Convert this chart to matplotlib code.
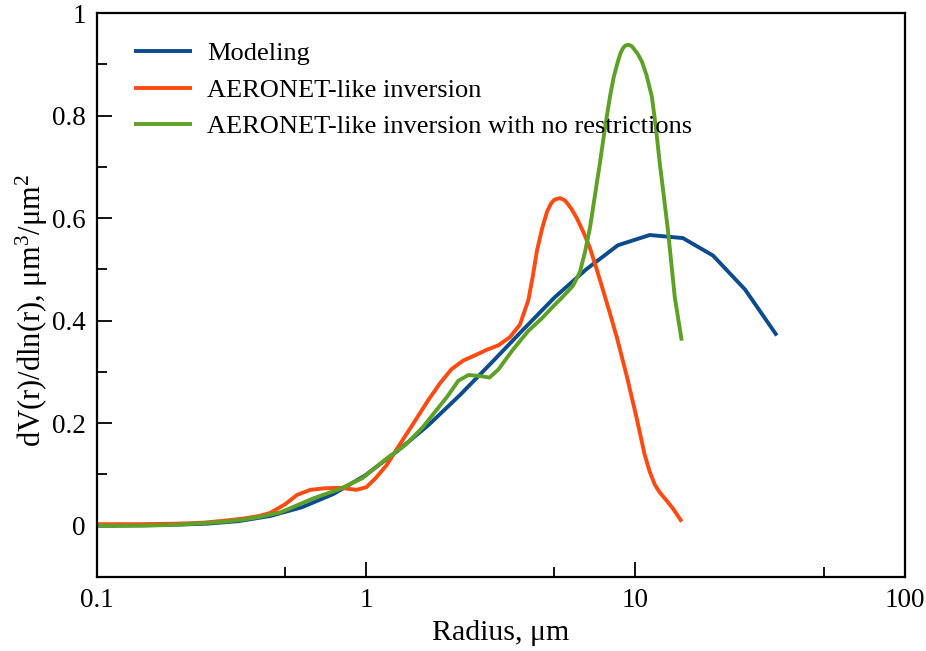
import matplotlib
matplotlib.use("Agg")
import matplotlib.pyplot as plt
from matplotlib.ticker import FixedLocator, NullFormatter, FuncFormatter

# Volume size distributions, dV(r)/dln(r) against radius (um)
model_r = [0.1, 0.114, 0.149, 0.196, 0.257, 0.336, 0.44, 0.577, 0.756, 0.99,
           1.30, 1.70, 2.23, 2.92, 3.82, 5.0, 6.56, 8.6, 11.3, 15.0, 19.4,
           25.5, 33.5]
model_v = [0.0, 0.0, 0.001, 0.002, 0.004, 0.009, 0.019, 0.036, 0.062, 0.098,
           0.145, 0.196, 0.255, 0.318, 0.382, 0.445, 0.500, 0.547, 0.567,
           0.561, 0.527, 0.461, 0.371]

inv_r = [0.10, 0.15, 0.2, 0.25, 0.3, 0.35, 0.4, 0.44, 0.5, 0.553, 0.62, 0.7,
         0.8, 0.92, 1.0, 1.08, 1.19, 1.3, 1.49, 1.7, 1.88, 2.07, 2.29, 2.55,
         2.8, 3.1, 3.42, 3.72, 4.0, 4.15, 4.3, 4.5, 4.69, 4.85, 5.0, 5.24,
         5.45, 5.6, 5.8, 6.05, 6.4, 6.76, 7.15, 7.57, 8.05, 8.53, 9.3, 10.1,
         10.8, 11.3, 11.8, 12.3, 13.1, 13.8, 14.85]
inv_v = [0.003, 0.003, 0.004, 0.006, 0.010, 0.014, 0.019, 0.025, 0.042,
         0.060, 0.070, 0.073, 0.074, 0.070, 0.075, 0.092, 0.118, 0.150,
         0.198, 0.245, 0.278, 0.305, 0.322, 0.333, 0.343, 0.352, 0.368,
         0.392, 0.440, 0.485, 0.535, 0.580, 0.612, 0.628, 0.636, 0.639,
         0.635, 0.628, 0.617, 0.600, 0.573, 0.543, 0.503, 0.460, 0.413,
         0.367, 0.290, 0.210, 0.140, 0.105, 0.080, 0.065, 0.048, 0.033,
         0.008]

free_r = [0.1, 0.15, 0.2, 0.25, 0.3, 0.35, 0.4, 0.48, 0.634, 0.8, 0.97, 1.19,
          1.4, 1.62, 1.8, 2.0, 2.2, 2.4, 2.64, 2.87, 3.1, 3.5, 4.0, 4.5,
          4.93, 5.4, 5.86, 6.22, 6.5, 6.77, 7.05, 7.38, 7.7, 8.04, 8.3, 8.6,
          8.8, 9.0, 9.2, 9.45, 9.7, 9.9, 10.2, 10.57, 11.0, 11.5, 11.9, 12.3,
          12.75, 13.2, 13.6, 14.0, 14.85]
free_v = [0.0, 0.0, 0.002, 0.005, 0.008, 0.012, 0.017, 0.026, 0.053, 0.072,
          0.093, 0.131, 0.158, 0.192, 0.222, 0.252, 0.283, 0.294, 0.292,
          0.289, 0.305, 0.343, 0.380, 0.405, 0.427, 0.448, 0.468, 0.495,
          0.535, 0.580, 0.640, 0.708, 0.775, 0.837, 0.875, 0.905, 0.922,
          0.932, 0.937, 0.938, 0.935, 0.929, 0.920, 0.905, 0.878, 0.837,
          0.778, 0.708, 0.642, 0.576, 0.510, 0.445, 0.361]

labels = ["Modeling", "AERONET-like inversion",
          "AERONET-like inversion with no restrictions"]
colors = ["#0B4C8E", "#FF4A12", "#5EA126"]

x_major = [0.1, 1, 10, 100]
x_minor = [0.5, 5, 50]
y_major = [0, 0.2, 0.4, 0.6, 0.8, 1.0]
y_minor = [0.1, 0.3, 0.5, 0.7, 0.9]

plt.rcParams["font.family"] = ["Liberation Serif", "DejaVu Serif"]
plt.rcParams["mathtext.fontset"] = "custom"
plt.rcParams["mathtext.rm"] = "Liberation Serif"
plt.rcParams["mathtext.it"] = "Liberation Serif:italic"

fig = plt.figure(figsize=(9.26, 6.51), dpi=100)
ax = fig.add_axes([0.1048, 0.1137, 0.8722, 0.8663])

lw = 2.8
for r, v, lab, c in zip([model_r, inv_r, free_r], [model_v, inv_v, free_v],
                        labels, colors):
    ax.plot(r, v, color=c, lw=lw, label=lab, solid_joinstyle="round",
            solid_capstyle="butt")

ax.set_xscale("log")
ax.set_xlim(0.1, 100)
ax.set_ylim(-0.1, 1.0)

ax.xaxis.set_major_locator(FixedLocator(x_major))
ax.xaxis.set_minor_locator(FixedLocator(x_minor))
ax.xaxis.set_major_formatter(FuncFormatter(lambda v, p: f"{v:g}"))
ax.xaxis.set_minor_formatter(NullFormatter())
ax.yaxis.set_major_locator(FixedLocator(y_major))
ax.yaxis.set_minor_locator(FixedLocator(y_minor))
ax.yaxis.set_major_formatter(FuncFormatter(lambda v, p: f"{v:g}"))

ax.tick_params(which="both", direction="in", top=False, right=False,
               labelsize=19.5, width=1.3, pad=8)
ax.tick_params(which="major", length=11)
ax.tick_params(which="minor", length=7)
for s in ax.spines.values():
    s.set_linewidth(1.6)

ax.set_xlabel("Radius, μm", fontsize=21.5, labelpad=5)
ax.set_ylabel(r"dV(r)/dln(r), μm$^{3}$/μm$^{2}$", fontsize=22)
ax.yaxis.set_label_coords(-0.058, 0.473)

ax.legend(loc="upper left", bbox_to_anchor=(0.0232, 0.982), frameon=False,
          fontsize=19, handlelength=2.2, handletextpad=0.57,
          labelspacing=0.5, borderaxespad=0.3)

fig.savefig("out.png", dpi=100)
